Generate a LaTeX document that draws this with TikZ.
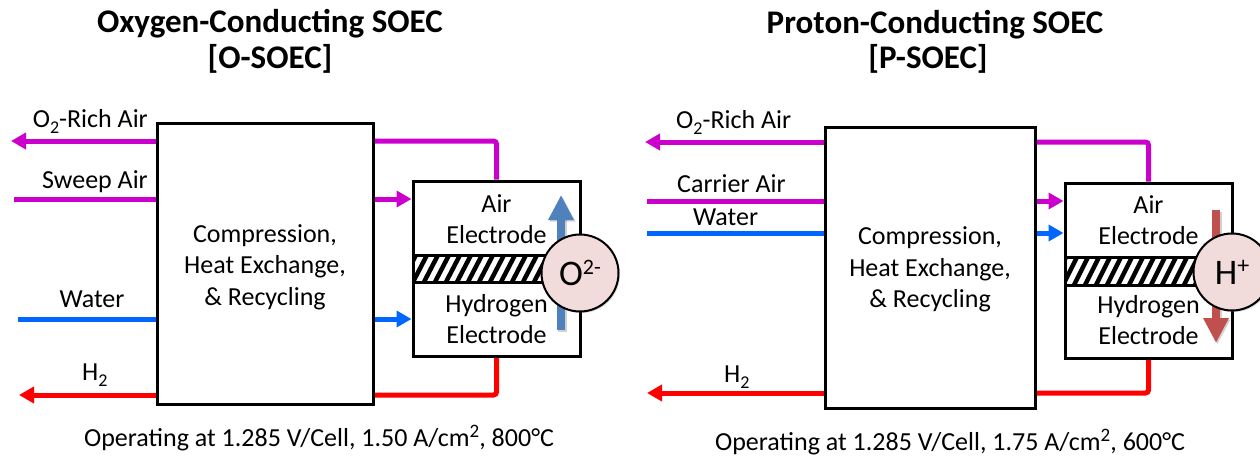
\documentclass[tikz,border=0pt]{standalone}
\usepackage{fontspec}
\setmainfont{Carlito}
\usetikzlibrary{arrows.meta,shadows}
\definecolor{magflow}{RGB}{204,0,204}
\definecolor{blueflow}{RGB}{0,102,255}
\definecolor{redflow}{RGB}{255,0,0}
\definecolor{ionblue}{RGB}{79,129,189}
\definecolor{ionred}{RGB}{192,80,77}
\definecolor{ionfill}{RGB}{242,220,219}
\newcommand{\mysubtwo}{\raisebox{-6pt}{\fontsize{18}{18}\selectfont 2}}
\newcommand{\mysupx}[1]{\raisebox{9pt}{\fontsize{19}{19}\selectfont #1}}
\begin{document}
\begin{tikzpicture}[x=1pt,y=-1pt,
  procbox/.style={draw, line width=3pt, fill=white, inner sep=0pt},
  cellbox/.style={draw, line width=3pt, fill=white, inner sep=0pt, minimum width=167pt, minimum height=175pt},
  flowline/.style={line width=5pt, rounded corners=3pt},
  flowtip/.style={-{Triangle[length=15pt,width=16pt]}},
  body/.style={font=\fontsize{26}{31}\selectfont, inner sep=0pt, anchor=base},
  ttl/.style={font=\fontsize{33}{36}\selectfont\bfseries, inner sep=0pt, anchor=base},
  ion/.style={circle, draw, line width=2pt, fill=ionfill, minimum size=77pt, inner sep=0pt,
    drop shadow={shadow xshift=1.5pt, shadow yshift=-1.5pt, opacity=0.3}},
  ionarrow/.style={line width=8.5pt, -{Triangle[length=25pt,width=24pt]}},
  hatchline/.style={line width=4.5pt},
]
\useasboundingbox (0,0) rectangle (1260,461);

% ---------------- titles ----------------
\node[ttl] (tL1) at (270,32) {Oxygen-Conducting SOEC};
\node[ttl] (tL2) at (270,68) {[O-SOEC]};
\node[ttl] (tR1) at (935,33) {Proton-Conducting SOEC};
\node[ttl] (tR2) at (928,68) {[P-SOEC]};

% ---------------- left: O-SOEC ----------------
\node[procbox, minimum width=216pt, minimum height=281pt] (procL) at (265,263.5) {};
\node[cellbox] (cellL) at (496.5,268.5) {};

\coordinate (oL) at (11,141);
\coordinate (sL) at (14,199);
\coordinate (wL) at (18,319);
\coordinate (hL) at (19,395);

\draw[flowline, magflow, flowtip] (procL.west |- oL) -- (oL);
\draw[flowline, magflow] (cellL.north) -- (cellL.north |- oL) -- (procL.east |- oL);
\draw[flowline, magflow] (sL) -- (procL.west |- sL);
\draw[flowline, magflow, flowtip] (procL.east |- sL) -- (cellL.west |- sL);
\draw[flowline, blueflow] (wL) -- (procL.west |- wL);
\draw[flowline, blueflow, flowtip] (procL.east |- wL) -- (cellL.west |- wL);
\draw[flowline, redflow, flowtip] (procL.west |- hL) -- (hL);
\draw[flowline, redflow] (cellL.south) -- (cellL.south |- hL) -- (procL.east |- hL);

\node[procbox, minimum width=216pt, minimum height=281pt] at (265,263.5) {};
\node[cellbox] at (496.5,268.5) {};

\begin{scope}
  \clip (413,255) rectangle (580,282);
  \foreach \x in {380,391,...,600} \draw[hatchline] (\x,282) -- (\x+14,255);
\end{scope}
\draw[line width=3pt] (413,255) -- (580,255);
\draw[line width=3pt] (413,282) -- (580,282);

\node[body] (pL1) at (265,242) {Compression,};
\node[body] (pL2) at (265,273) {Heat Exchange,};
\node[body] (pL3) at (265,305) {\& Recycling};

\node[body] (aL1) at (496.5,212) {Air};
\node[body] (aL2) at (496.5,243) {Electrode};
\node[body] (hL1) at (496.5,312) {Hydrogen};
\node[body] (hL2) at (496.5,343) {Electrode};

\node[body, anchor=base east] (lO2L) at (148,127) {O\mysubtwo-Rich Air};
\node[body, anchor=base east] (lSwL) at (148,188) {Sweep Air};
\node[body] (lWL) at (92,307) {Water};
\node[body, anchor=base west] (lHL) at (82,380) {H\mysubtwo};

\coordinate (iLs) at (561,330);
\coordinate (iLe) at (561,195);
\draw[ionarrow, black, opacity=0.18] ([shift={(1.5,1.5)}]iLs) -- ([shift={(1.5,1.5)}]iLe);
\draw[ionarrow, ionblue] (iLs) -- (iLe);
\node[ion] (ionL) at (580,273) {\fontsize{36}{36}\selectfont O\raisebox{11pt}{\fontsize{22}{22}\selectfont 2-}};

\node[body] (opL) at (319,446) {Operating at 1.285 V/Cell, 1.50 A/cm\mysupx{2}, 800°C};

% ---------------- right: P-SOEC ----------------
\node[procbox, minimum width=210pt, minimum height=281pt] (procR) at (930,267.5) {};
\node[cellbox] (cellR) at (1148.5,270.5) {};

\coordinate (oR) at (645,142);
\coordinate (cR) at (647,201);
\coordinate (wR) at (647,233);
\coordinate (hR) at (647,393);

\draw[flowline, magflow, flowtip] (procR.west |- oR) -- (oR);
\draw[flowline, magflow] (cellR.north) -- (cellR.north |- oR) -- (procR.east |- oR);
\draw[flowline, magflow] (cR) -- (procR.west |- cR);
\draw[flowline, magflow, flowtip] (procR.east |- cR) -- (cellR.west |- cR);
\draw[flowline, blueflow] (wR) -- (procR.west |- wR);
\draw[flowline, blueflow, flowtip] (procR.east |- wR) -- (cellR.west |- wR);
\draw[flowline, redflow, flowtip] (procR.west |- hR) -- (hR);
\draw[flowline, redflow] (cellR.south) -- (cellR.south |- hR) -- (procR.east |- hR);

\node[procbox, minimum width=210pt, minimum height=281pt] at (930,267.5) {};
\node[cellbox] at (1148.5,270.5) {};

\begin{scope}
  \clip (1065,257) rectangle (1232,285);
  \foreach \x in {1030,1041,...,1250} \draw[hatchline] (\x,285) -- (\x+14,257);
\end{scope}
\draw[line width=3pt] (1065,257) -- (1232,257);
\draw[line width=3pt] (1065,285) -- (1232,285);

\node[body] (pR1) at (930,244) {Compression,};
\node[body] (pR2) at (930,276) {Heat Exchange,};
\node[body] (pR3) at (930,307) {\& Recycling};

\node[body] (aR1) at (1148.5,213) {Air};
\node[body] (aR2) at (1148.5,244) {Electrode};
\node[body] (hR1) at (1148.5,313) {Hydrogen};
\node[body] (hR2) at (1148.5,344) {Electrode};

\node[body, anchor=base west] (lO2R) at (676,128) {O\mysubtwo-Rich Air};
\node[body, anchor=base west] (lCaR) at (677,192) {Carrier Air};
\node[body, anchor=base west] (lWR) at (693,225) {Water};
\node[body, anchor=base west] (lHR) at (724,382) {H\mysubtwo};

\coordinate (iRs) at (1216,210);
\coordinate (iRe) at (1216,343);
\draw[ionarrow, black, opacity=0.18] ([shift={(1.5,1.5)}]iRs) -- ([shift={(1.5,1.5)}]iRe);
\draw[ionarrow, ionred] (iRs) -- (iRe);
\node[ion] (ionR) at (1232,272) {\fontsize{36}{36}\selectfont H\raisebox{11pt}{\fontsize{24}{24}\selectfont +}};

\node[body] (opR) at (950,450) {Operating at 1.285 V/Cell, 1.75 A/cm\mysupx{2}, 600°C};
\end{tikzpicture}
\end{document}
